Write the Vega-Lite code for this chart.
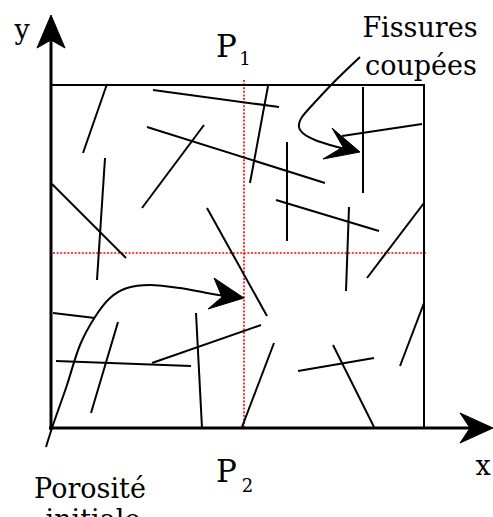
{
  "$schema": "https://vega.github.io/schema/vega-lite/v6.json",
  "width": 493,
  "height": 517,
  "autosize": {"type": "none"},
  "padding": 0,
  "background": "white",
  "config": {"view": {"stroke": null}},
  "datasets": {
    "cracks": [
      {"x": 107, "y": 84, "x2": 83, "y2": 153},
      {"x": 153, "y": 90, "x2": 279, "y2": 107},
      {"x": 147, "y": 127, "x2": 325, "y2": 183},
      {"x": 204, "y": 125, "x2": 142, "y2": 208},
      {"x": 105, "y": 158, "x2": 97, "y2": 280},
      {"x": 52, "y": 184, "x2": 126, "y2": 258},
      {"x": 207, "y": 208, "x2": 267, "y2": 316},
      {"x": 268, "y": 86, "x2": 250, "y2": 183},
      {"x": 363, "y": 87, "x2": 363, "y2": 193},
      {"x": 342, "y": 136, "x2": 422, "y2": 124},
      {"x": 287, "y": 142, "x2": 287, "y2": 241},
      {"x": 276, "y": 200, "x2": 379, "y2": 231},
      {"x": 349, "y": 207, "x2": 346, "y2": 291},
      {"x": 424, "y": 203, "x2": 367, "y2": 278},
      {"x": 53, "y": 313, "x2": 95, "y2": 318},
      {"x": 118, "y": 322, "x2": 91, "y2": 413},
      {"x": 56, "y": 361, "x2": 191, "y2": 366},
      {"x": 152, "y": 363, "x2": 261, "y2": 325},
      {"x": 196, "y": 313, "x2": 202, "y2": 428},
      {"x": 242, "y": 427, "x2": 274, "y2": 343},
      {"x": 298, "y": 371, "x2": 374, "y2": 358},
      {"x": 333, "y": 345, "x2": 374, "y2": 427},
      {"x": 400, "y": 366, "x2": 424, "y2": 303},
      {"x": 51, "y": 85, "x2": 425, "y2": 85},
      {"x": 424, "y": 85, "x2": 424, "y2": 429}
    ],
    "axes": [
      {"x": 51, "y": 430, "x2": 51, "y2": 40},
      {"x": 49, "y": 428, "x2": 472, "y2": 428}
    ],
    "guides": [
      {"x": 244, "y": 80, "x2": 244, "y2": 428},
      {"x": 53, "y": 253, "x2": 427, "y2": 253}
    ],
    "curves": [
      {"id": "a", "i": 0, "x": 360, "y": 57},
      {"id": "a", "i": 1, "x": 336, "y": 80},
      {"id": "a", "i": 2, "x": 317, "y": 100},
      {"id": "a", "i": 3, "x": 302, "y": 117},
      {"id": "a", "i": 4, "x": 299, "y": 127},
      {"id": "a", "i": 5, "x": 304, "y": 134},
      {"id": "a", "i": 6, "x": 315, "y": 140},
      {"id": "a", "i": 7, "x": 330, "y": 145},
      {"id": "a", "i": 8, "x": 345, "y": 149},
      {"id": "b", "i": 0, "x": 46, "y": 447},
      {"id": "b", "i": 1, "x": 52, "y": 428},
      {"id": "b", "i": 2, "x": 60, "y": 405},
      {"id": "b", "i": 3, "x": 67, "y": 385},
      {"id": "b", "i": 4, "x": 80, "y": 345},
      {"id": "b", "i": 5, "x": 95, "y": 317},
      {"id": "b", "i": 6, "x": 110, "y": 298},
      {"id": "b", "i": 7, "x": 127, "y": 288},
      {"id": "b", "i": 8, "x": 150, "y": 285},
      {"id": "b", "i": 9, "x": 180, "y": 288},
      {"id": "b", "i": 10, "x": 207, "y": 293},
      {"id": "b", "i": 11, "x": 225, "y": 296}
    ],
    "heads": [
      {"id": "ya", "i": 0, "x": 51, "y": 15},
      {"id": "ya", "i": 1, "x": 37, "y": 48},
      {"id": "ya", "i": 2, "x": 51, "y": 40},
      {"id": "ya", "i": 3, "x": 65, "y": 48},
      {"id": "xa", "i": 0, "x": 493, "y": 428},
      {"id": "xa", "i": 1, "x": 460, "y": 413},
      {"id": "xa", "i": 2, "x": 470, "y": 428},
      {"id": "xa", "i": 3, "x": 460, "y": 443},
      {"id": "a", "i": 0, "x": 360, "y": 152},
      {"id": "a", "i": 1, "x": 332, "y": 128},
      {"id": "a", "i": 2, "x": 343, "y": 147},
      {"id": "a", "i": 3, "x": 323, "y": 159},
      {"id": "b", "i": 0, "x": 244, "y": 298},
      {"id": "b", "i": 1, "x": 214, "y": 278},
      {"id": "b", "i": 2, "x": 222, "y": 297},
      {"id": "b", "i": 3, "x": 208, "y": 309}
    ],
    "labels": [
      {"t": "y", "x": 22, "y": 39},
      {"t": "Fissures", "x": 420, "y": 37},
      {"t": "coupées", "x": 421, "y": 75},
      {"t": "Porosité", "x": 90, "y": 498},
      {"t": "initiale", "x": 93, "y": 529},
      {"t": "x", "x": 483, "y": 475}
    ],
    "pl": [
      {"t": "P", "x": 226.5, "y": 57},
      {"t": "P", "x": 226.5, "y": 482}
    ],
    "subs": [
      {"t": "1", "x": 245, "y": 65},
      {"t": "2", "x": 247.5, "y": 492}
    ]
  },
  "layer": [
    {
      "data": {"name": "guides"},
      "mark": {"type": "rule", "color": "#ff0000", "strokeWidth": 1.6, "strokeDash": [2, 1.6]},
      "encoding": {
        "x": {"field": "x", "type": "quantitative", "scale": {"domain": [0, 493], "nice": false, "zero": false}, "axis": null},
        "y": {"field": "y", "type": "quantitative", "scale": {"domain": [0, 517], "nice": false, "zero": false, "reverse": true}, "axis": null},
        "x2": {"field": "x2"},
        "y2": {"field": "y2"}
      }
    },
    {
      "data": {"name": "cracks"},
      "mark": {"type": "rule", "color": "black", "strokeWidth": 2},
      "encoding": {
        "x": {"field": "x", "type": "quantitative"},
        "y": {"field": "y", "type": "quantitative"},
        "x2": {"field": "x2"},
        "y2": {"field": "y2"}
      }
    },
    {
      "data": {"name": "axes"},
      "mark": {"type": "rule", "color": "black", "strokeWidth": 3},
      "encoding": {
        "x": {"field": "x", "type": "quantitative"},
        "y": {"field": "y", "type": "quantitative"},
        "x2": {"field": "x2"},
        "y2": {"field": "y2"}
      }
    },
    {
      "data": {"name": "curves"},
      "mark": {"type": "line", "color": "black", "strokeWidth": 2, "interpolate": "cardinal"},
      "encoding": {
        "x": {"field": "x", "type": "quantitative"},
        "y": {"field": "y", "type": "quantitative"},
        "detail": {"field": "id"},
        "order": {"field": "i", "type": "quantitative"}
      }
    },
    {
      "data": {"name": "heads"},
      "mark": {"type": "line", "filled": true, "color": "black", "fill": "black", "stroke": "black", "strokeWidth": 1, "interpolate": "linear-closed"},
      "encoding": {
        "x": {"field": "x", "type": "quantitative"},
        "y": {"field": "y", "type": "quantitative"},
        "detail": {"field": "id"},
        "order": {"field": "i", "type": "quantitative"}
      }
    },
    {
      "data": {"name": "labels"},
      "mark": {"type": "text", "font": "DejaVu Serif", "fontSize": 27, "baseline": "alphabetic", "align": "center", "color": "black"},
      "encoding": {
        "x": {"field": "x", "type": "quantitative"},
        "y": {"field": "y", "type": "quantitative"},
        "text": {"field": "t"}
      }
    },
    {
      "data": {"name": "pl"},
      "mark": {"type": "text", "font": "DejaVu Serif", "fontSize": 31, "baseline": "alphabetic", "align": "center", "color": "black"},
      "encoding": {
        "x": {"field": "x", "type": "quantitative"},
        "y": {"field": "y", "type": "quantitative"},
        "text": {"field": "t"}
      }
    },
    {
      "data": {"name": "subs"},
      "mark": {"type": "text", "font": "DejaVu Serif", "fontSize": 18, "baseline": "alphabetic", "align": "center", "color": "black"},
      "encoding": {
        "x": {"field": "x", "type": "quantitative"},
        "y": {"field": "y", "type": "quantitative"},
        "text": {"field": "t"}
      }
    }
  ]
}
